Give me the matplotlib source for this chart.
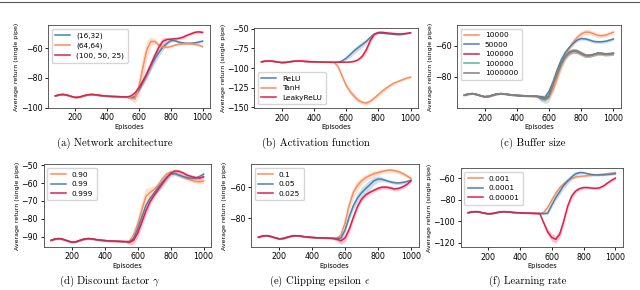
import matplotlib
matplotlib.use("Agg")
import matplotlib.pyplot as plt
from matplotlib.lines import Line2D
import numpy as np

# ---- data ----
episodes = list(range(75, 1001, 25))

# all runs share the same curve up to ~525 episodes
base = [-92.0, -91.2, -91.0, -91.5, -92.3, -93.0, -92.8, -92.0, -91.3, -91.0,
        -91.2, -91.6, -91.9, -92.1, -92.3, -92.4, -92.5, -92.6, -92.7]
base_sd = [0.5] * 19

# (a) network architecture, tails 550..1000
a_labels = ["(16,32)", "(64,64)", "(100, 50, 25)"]
a_blue = [-93.5, -92.5, -88, -83, -77.5, -72, -67, -63, -59.5, -57, -55, -55, -56,
          -56.5, -56.8, -56.8, -56.5, -56, -55.3]
a_orange = [-93.5, -94, -86, -73, -61, -55.5, -55.5, -58, -59.3, -59.5, -59, -58,
            -57.5, -57.2, -57, -57, -57.5, -58, -59]
a_red = [-92, -90, -86.5, -82, -77, -71, -65, -59.5, -55.5, -54.3, -54, -53.8,
         -53.5, -52.8, -51.5, -50.5, -49.5, -49.1, -49.5]
a_blue_sd = [0.8, 1, 1.5, 2, 2.5, 3, 3, 2.5, 2, 1.2, 1, 0.8, 0.8, 0.8, 0.8, 0.8, 0.8, 0.8, 0.8]
a_orange_sd = [1.5, 3, 6, 8, 6, 3, 1.5, 1.2, 1, 0.8, 0.8, 0.8, 0.8, 0.8, 0.8, 0.8, 0.8, 0.8, 0.8]
a_red_sd = [1, 1.5, 2, 2.5, 3, 3, 3, 3, 2.5, 1.5, 1.2, 1, 1, 1, 1, 1, 1, 1, 1]

# (b) activation function
b_labels = ["ReLU", "TanH", "LeakyReLU"]
b_blue = [-92.5, -91, -87.5, -83, -78, -74, -70, -66, -61, -56.5, -55.3, -55.5, -56,
          -56.5, -57, -57.3, -57, -56, -55]
b_orange = [-98, -110, -122, -130, -136, -141, -144, -144.8, -142.5, -138.5, -134,
            -129.5, -125.5, -122, -119, -117, -115, -113, -111.5]
b_red = [-92.6, -92.6, -92.5, -92.3, -91.5, -89.5, -85, -77, -65, -57, -54.5, -54.3,
         -55, -55.5, -56, -56.5, -56.3, -55.7, -55]
b_blue_sd = [0.8, 1.5, 2.5, 3.5, 4, 4, 3.5, 3, 2, 1, 0.7, 0.7, 0.7, 0.7, 0.7, 0.7, 0.7, 0.7, 0.7]
b_orange_sd = [2, 3, 3.5, 3.5, 3.5, 3, 2.5, 2.5, 2.5, 2.5, 2.5, 2.5, 2.5, 2, 2, 1.5, 1.5, 1.5, 1.5]
b_red_sd = [0.7, 0.7, 0.7, 0.8, 1, 1.5, 3, 4, 4, 2.5, 1.5, 0.7, 0.7, 0.7, 0.7, 0.7, 0.7, 0.7, 0.7]

# (c) buffer size
c_labels = ["10000", "50000", "100000", "100000", "1000000"]
c_orange = [-93, -94, -93, -88.5, -81, -73, -67, -62, -57.8, -54.7, -52.5, -51.3,
            -51.3, -52.2, -53.3, -53.6, -53.2, -52.3, -51.3]
c_blue = [-93, -93.5, -89.5, -83.5, -76, -69.5, -64.6, -61.2, -58.5, -56.4, -55.4,
          -55.6, -56.3, -57.2, -57.5, -57.5, -57.2, -56.5, -55.7]
c_red = [-94, -94.6, -92.5, -85, -78, -72, -67, -64.5, -63.3, -63.7, -65, -66.3,
         -66.4, -65.8, -65, -65, -65.5, -65.3, -65]
c_green = [-94, -94.6, -92.5, -85, -78, -72, -67, -64.5, -63.3, -63.7, -65, -66.3,
           -66.4, -65.8, -65, -65, -65.5, -65.3, -65]
c_gray = [-94, -94.6, -92.5, -85, -78, -72, -67, -64.5, -63.3, -63.7, -65, -66.3,
          -66.4, -65.8, -65, -65, -65.5, -65.3, -65]
c_orange_sd = [1, 1, 1.5, 2, 2.5, 2.5, 2.5, 2, 2, 1.8, 1.8, 1.8, 1.5, 1.5, 1.5, 1.2, 1.2, 1.2, 1.2]
c_blue_sd = [1, 1, 1.5, 1.5, 1.5, 1.5, 1.2, 1, 1, 1, 1, 1, 1, 1, 1, 1, 1, 1, 1]
c_red_sd = [1.5, 1.5, 1.5, 1.5, 1.5, 1.5, 1.5, 1.5, 1.5, 1.5, 1.5, 1.2, 1.2, 1.2, 1.2, 1.2, 1.2, 1.2, 1.2]
c_green_sd = [2, 3, 4, 4.5, 4.5, 4, 3, 2, 1.5, 1.2, 1.2, 1.2, 1.2, 1.2, 1.2, 1.2, 1.2, 1.2, 1.2]
c_gray_sd = [1, 1, 1, 1, 1, 1, 1.2, 1.5, 1.5, 1.5, 1.5, 1.5, 1.2, 1, 1, 1, 1, 1, 1]

# (d) discount factor
d_labels = ["0.90", "0.99", "0.999"]
d_orange = [-92.5, -89, -83, -75, -67.5, -65.3, -63.5, -61, -57.5, -55, -53.8, -54.3,
            -55.5, -56.5, -57.5, -58.3, -59, -59.3, -58.8]
d_blue = [-92.8, -91, -85.5, -79, -72.5, -68.5, -65.5, -62.3, -59.5, -56.8, -55, -54.7,
          -55.5, -56.3, -57, -57.4, -57.2, -56.3, -55]
d_red = [-93, -92, -88, -82, -75.5, -70.5, -66.8, -63.5, -60.3, -57.2, -54.5, -53.2,
         -53.4, -54.3, -55.6, -56.3, -56.9, -57.3, -56.5]
d_orange_sd = [1, 2, 4, 5, 4.5, 3, 2, 1.5, 1.5, 1.2, 1.2, 1.2, 1.2, 1.2, 1.2, 1.2, 1.2, 1.2, 1.2]
d_blue_sd = [0.8, 0.8, 0.8, 1, 1, 1.2, 1.5, 2.5, 3, 2.5, 1.5, 1, 1, 1, 1, 1, 1, 1, 1]
d_red_sd = [1.5, 2, 2.5, 2.5, 2.5, 2, 1.5, 1.2, 1, 1, 1, 1, 1, 1, 1, 1, 1, 1, 1]

# (e) clipping epsilon
e_labels = ["0.1", "0.05", "0.025"]
e_orange = [-92.8, -90.6, -83, -71.5, -63.5, -59, -56, -54, -52.6, -51.5, -50.7, -50,
            -49.4, -49.1, -49.5, -50.2, -51.3, -52.8, -54.4]
e_blue = [-92.8, -92.5, -87.5, -79, -72, -67, -63.6, -61, -58.5, -56, -54.8, -55,
          -55.8, -56.6, -57.2, -57.3, -57, -56.4, -55.6]
e_red = [-93.2, -94.3, -92.5, -87, -79.5, -72.5, -67.8, -65, -63.3, -62, -60.8, -60,
         -60, -60.5, -61.2, -60.8, -59.8, -58.3, -56]
e_orange_sd = [1, 2, 4, 4, 3.5, 3, 2.5, 2, 2, 2, 1.5, 1.5, 1.2, 1.2, 1.2, 1.2, 1.2, 1.2, 1.2]
e_blue_sd = [1, 1, 1.5, 2, 2.5, 3, 3.5, 3.5, 3, 2.5, 2, 1.5, 1, 1, 1, 1, 1, 1, 1]
e_red_sd = [1.5, 2, 2.5, 2.5, 2.5, 2, 1.5, 1.2, 1.2, 1.2, 1.2, 1.2, 1.2, 1.2, 1.2, 1.2, 1.2, 1.2, 1.2]

# (f) learning rate
f_labels = ["0.001", "0.0001", "0.00001"]
f_orange = [-91.5, -87, -80.5, -74.2, -68.8, -65, -61.8, -59.9, -58.8, -58.1, -57.8,
            -57.5, -57.1, -56.6, -56.3, -56, -55.5, -55, -54.4]
f_blue = [-92.8, -92.3, -85, -78, -72.5, -66.5, -62.5, -58.6, -55.7, -54.5, -54.6,
          -55.6, -56.3, -56.6, -56.7, -56.6, -56.3, -56, -55.6]
f_red = [-101.5, -110, -115, -116.8, -112, -100, -86, -76.5, -71.8, -69.5, -68.5,
         -68.5, -69, -69.2, -68.8, -67, -64.3, -61.8, -59.7]
f_orange_sd = [1.5, 2.5, 3, 3, 2.5, 2, 1.5, 1, 1, 1, 1, 1, 1, 1, 1, 1, 1, 1, 1]
f_blue_sd = [1, 1.5, 2, 2.5, 3, 3, 3, 2.5, 2, 1.5, 1, 1, 1, 1, 1, 1, 1, 1, 1]
f_red_sd = [2, 3, 3.5, 3.5, 3.5, 3.5, 3, 2.5, 2, 1.5, 1.2, 1.2, 1.2, 1.2, 1.2, 1.2, 1.2, 1.5, 1.5]

captions = ["(a) Network architecture", "(b) Activation function", "(c) Buffer size",
            r"(d) Discount factor $\gamma$", r"(e) Clipping epsilon $\epsilon$",
            "(f) Learning rate"]

ORANGE = "#fc8d59"
BLUE = "#4682b4"
RED = "#e0204a"
GREEN = "#5fb58f"
GRAY = "#808080"

plt.rcParams["mathtext.fontset"] = "cm"
plt.rcParams["font.family"] = "DejaVu Sans"

fig = plt.figure(figsize=(6.4, 2.9), dpi=100)

# axes rectangles in figure fraction [left, bottom, width, height]
rects = [
    [0.075, 0.628, 0.253, 0.286],
    [0.397, 0.627, 0.256, 0.276],
    [0.714, 0.627, 0.256, 0.287],
    [0.068, 0.149, 0.262, 0.285],
    [0.392, 0.149, 0.262, 0.285],
    [0.720, 0.147, 0.253, 0.272],
]
cap_pos = [(115, 143), (316, 143), (533, 143), (110, 281), (320, 281), (528, 281)]


def panel(ax, series, labels, ylim, yticks, loc):
    x = np.array(episodes)
    for (tail, sd, color), lab in zip(series, labels):
        y = np.array(base + tail)
        s = np.array(base_sd + sd)
        ax.fill_between(x, y - s, y + s, color=color, alpha=0.28, lw=0)
        ax.plot(x, y, color=color, lw=1.1, label=lab)
    ax.set_xlim(29, 1046)
    ax.set_ylim(*ylim)
    ax.set_xticks([200, 400, 600, 800, 1000])
    ax.set_yticks(yticks)
    ax.tick_params(labelsize=5.7, length=2.5, width=0.6, pad=1.5)
    for sp in ax.spines.values():
        sp.set_linewidth(0.6)
        sp.set_color("#444444")
    ax.set_xlabel("Episodes", fontsize=4.8, labelpad=1)
    ax.set_ylabel("Average return (single pipe)", fontsize=4.5, labelpad=1)
    ax.legend(loc=loc, fontsize=5.3, handlelength=2.0, borderpad=0.5,
              labelspacing=0.45, handletextpad=0.8)


axes = [fig.add_axes(r) for r in rects]

panel(axes[0], [(a_blue, a_blue_sd, BLUE), (a_orange, a_orange_sd, ORANGE),
                (a_red, a_red_sd, RED)], a_labels, (-100, -44.5), [-100, -80, -60], "upper left")
panel(axes[1], [(b_blue, b_blue_sd, BLUE), (b_orange, b_orange_sd, ORANGE),
                (b_red, b_red_sd, RED)], b_labels, (-151.3, -49), [-150, -125, -100, -75, -50],
      "lower left")
panel(axes[2], [(c_orange, c_orange_sd, ORANGE), (c_blue, c_blue_sd, BLUE),
                (c_red, c_red_sd, RED), (c_green, c_green_sd, GREEN),
                (c_gray, c_gray_sd, GRAY)], c_labels, (-100.4, -46.6), [-80, -60], "upper left")
panel(axes[3], [(d_orange, d_orange_sd, ORANGE), (d_blue, d_blue_sd, BLUE),
                (d_red, d_red_sd, RED)], d_labels, (-95.6, -49.4), [-90, -80, -70, -60, -50],
      "upper left")
panel(axes[4], [(e_orange, e_orange_sd, ORANGE), (e_blue, e_blue_sd, BLUE),
                (e_red, e_red_sd, RED)], e_labels, (-98.1, -45.3), [-80, -60], "upper left")
panel(axes[5], [(f_orange, f_orange_sd, ORANGE), (f_blue, f_blue_sd, BLUE),
                (f_red, f_red_sd, RED)], f_labels, (-124.3, -50.7), [-120, -100, -80, -60],
      "upper left")

for txt, (px, py) in zip(captions, cap_pos):
    fig.text(px / 640, 1 - py / 290, txt, ha="center", va="center",
             fontsize=7.7, family="cmr10")

# thin rule along the top edge
fig.add_artist(Line2D([0, 1], [1 - 1.5 / 290, 1 - 1.5 / 290], color="#555555", lw=0.8))

fig.savefig("out.png", dpi=100)
